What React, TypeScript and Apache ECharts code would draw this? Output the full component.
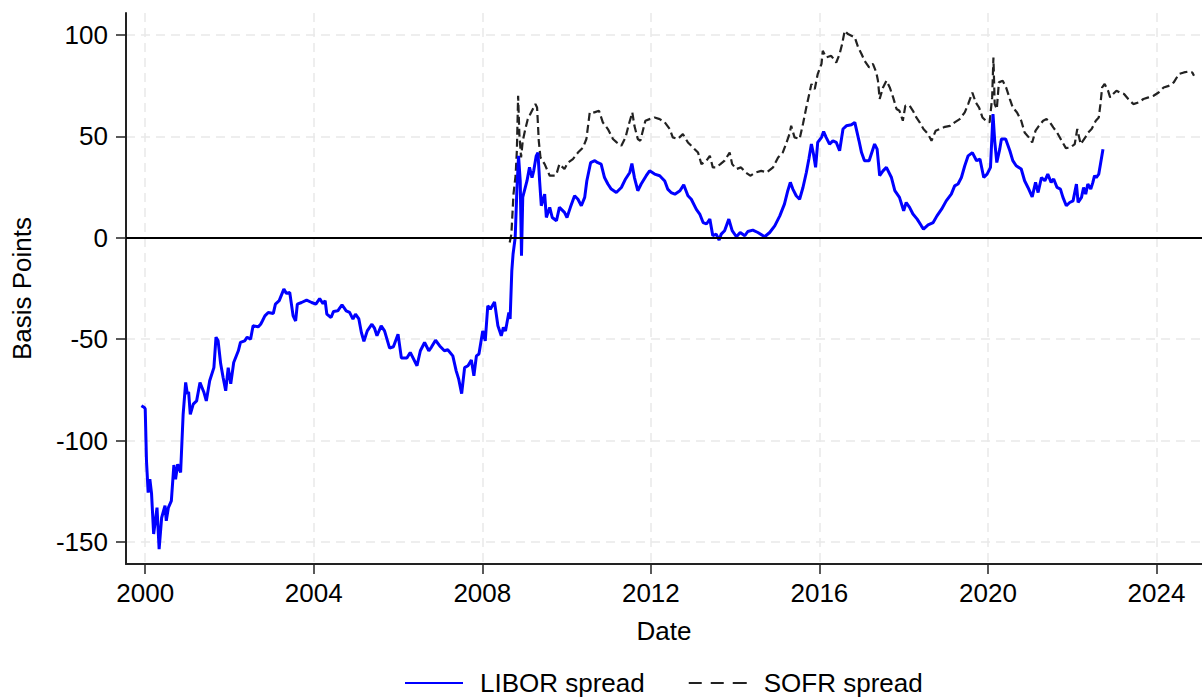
import React, { useEffect, useRef } from "react";
import * as echarts from "echarts";

const liborDates = [
  1999.91, 1999.98, 2000.0, 2000.03, 2000.07, 2000.11, 2000.15, 2000.2, 2000.28, 2000.33, 2000.39, 2000.47, 2000.5,
  2000.55, 2000.62, 2000.68, 2000.72, 2000.77, 2000.84, 2000.9, 2000.96, 2001.0, 2001.03, 2001.07, 2001.14, 2001.22,
  2001.3, 2001.39, 2001.45, 2001.53, 2001.63, 2001.68, 2001.73, 2001.79, 2001.85, 2001.91, 2001.97, 2002.03, 2002.1,
  2002.21, 2002.26, 2002.36, 2002.42, 2002.5, 2002.56, 2002.68, 2002.74, 2002.78, 2002.84, 2002.92, 2003.04, 2003.09,
  2003.18, 2003.29, 2003.35, 2003.43, 2003.51, 2003.57, 2003.61, 2003.71, 2003.83, 2003.95, 2004.05, 2004.14, 2004.22,
  2004.27, 2004.31, 2004.41, 2004.47, 2004.57, 2004.67, 2004.77, 2004.85, 2004.93, 2004.99, 2005.07, 2005.13, 2005.19,
  2005.27, 2005.38, 2005.44, 2005.5, 2005.6, 2005.68, 2005.8, 2005.89, 2006.0, 2006.08, 2006.21, 2006.29, 2006.45,
  2006.53, 2006.63, 2006.73, 2006.79, 2006.89, 2006.99, 2007.1, 2007.18, 2007.3, 2007.38, 2007.44, 2007.51, 2007.58,
  2007.66, 2007.74, 2007.8, 2007.86, 2007.92, 2008.01, 2008.07, 2008.13, 2008.19, 2008.29, 2008.37, 2008.45, 2008.5,
  2008.55, 2008.63, 2008.66, 2008.7, 2008.73, 2008.78, 2008.82, 2008.86, 2008.9, 2008.93, 2008.96, 2009.0, 2009.06,
  2009.12, 2009.18, 2009.22, 2009.28, 2009.32, 2009.36, 2009.4, 2009.48, 2009.52, 2009.6, 2009.66, 2009.76, 2009.83,
  2009.95, 2010.01, 2010.09, 2010.19, 2010.27, 2010.35, 2010.43, 2010.48, 2010.57, 2010.67, 2010.74, 2010.82, 2010.9,
  2010.98, 2011.06, 2011.18, 2011.3, 2011.4, 2011.5, 2011.55, 2011.61, 2011.69, 2011.77, 2011.89, 2011.97, 2012.09,
  2012.21, 2012.33, 2012.4, 2012.48, 2012.57, 2012.69, 2012.78, 2012.88, 2012.96, 2013.08, 2013.16, 2013.24, 2013.32,
  2013.4, 2013.47, 2013.55, 2013.62, 2013.67, 2013.75, 2013.85, 2013.93, 2014.03, 2014.12, 2014.23, 2014.3, 2014.42,
  2014.54, 2014.7, 2014.82, 2014.94, 2015.06, 2015.17, 2015.25, 2015.31, 2015.37, 2015.45, 2015.53, 2015.61, 2015.69,
  2015.75, 2015.81, 2015.86, 2015.91, 2015.96, 2016.05, 2016.1, 2016.16, 2016.24, 2016.32, 2016.4, 2016.48, 2016.56,
  2016.64, 2016.76, 2016.84, 2016.94, 2017.0, 2017.07, 2017.18, 2017.31, 2017.37, 2017.43, 2017.51, 2017.59, 2017.71,
  2017.79, 2017.9, 2018.0, 2018.06, 2018.14, 2018.22, 2018.32, 2018.42, 2018.47, 2018.58, 2018.7, 2018.79, 2018.9,
  2019.01, 2019.13, 2019.21, 2019.29, 2019.37, 2019.45, 2019.53, 2019.63, 2019.73, 2019.81, 2019.9, 2019.98, 2020.06,
  2020.12, 2020.16, 2020.21, 2020.28, 2020.32, 2020.42, 2020.52, 2020.59, 2020.67, 2020.79, 2020.87, 2020.95, 2021.05,
  2021.13, 2021.19, 2021.27, 2021.35, 2021.42, 2021.5, 2021.56, 2021.64, 2021.72, 2021.78, 2021.86, 2021.94, 2022.02,
  2022.1, 2022.14, 2022.22, 2022.27, 2022.32, 2022.37, 2022.44, 2022.49, 2022.53, 2022.57, 2022.63, 2022.67, 2022.73,
];

const liborValues = [
  -82.8, -83.7, -84.3, -110, -125.6, -119, -126, -146, -133, -153.5, -138, -132, -139.5,
  -133, -129.7, -112, -119, -111.6, -115.7, -87, -71.3, -77, -76, -87, -82, -80.4,
  -71.3, -76, -80.4, -70.5, -64, -49, -50.8, -62, -69, -75.4, -64, -72, -61.5,
  -55.7, -51.6, -50.8, -49, -50, -43.4, -43.9, -42.6, -41, -38.5, -36.8, -37.3, -32.7,
  -31, -25.3, -27.4, -27, -38.5, -41, -32.7, -31.9, -30.7, -31.9, -32.7, -30, -32.5,
  -31, -37.6, -39.3, -36.3, -36, -33, -36, -36.8, -40.1, -37.6, -40, -46.7, -51,
  -45.9, -42.6, -44.5, -48.3, -43.4, -45.9, -54.4, -53.7, -47.5, -59.3, -59.3, -56.5, -63.1,
  -55.7, -51.6, -55.7, -54, -50.5, -53.3, -55.7, -55.2, -58.2, -65.6, -69.7, -76.8, -64,
  -63.1, -60.3, -68, -58.2, -57.3, -45.9, -50.8, -33.5, -35.2, -31.6, -43.4, -48.3, -44.2,
  -45.9, -36.8, -40, -16.3, -8, 0, 23, 40.4, 28, -8.9, 20, 23.2, 28,
  34.7, 29.7, 33, 40.4, 42, 28, 15.8, 21.5, 10, 15, 10, 8.4, 15,
  12.5, 10, 15, 20.7, 19, 15.8, 19.9, 28, 37, 38, 37, 36.3, 29.7,
  26.5, 24, 22.3, 24.8, 29, 32.2, 36.6, 29.7, 23.2, 26.5, 30.6, 33, 31.4,
  30.6, 28, 24, 22.3, 21.5, 23.2, 26.1, 20.7, 19, 14, 11.7, 7.5, 6.8,
  9.2, 1, 1.8, -1.1, 1.8, 3.5, 9.2, 3.5, 0.5, 2.6, 1, 3.1, 3.8,
  2.6, 0.5, 2.6, 5.9, 10.8, 16.6, 23.2, 27.3, 24, 20.7, 19, 24.8, 32.2,
  38.8, 46.2, 41.3, 34.7, 47, 49.5, 52.4, 49.5, 46.2, 47.8, 47, 42.9, 53.6,
  55.2, 55.7, 56.9, 47.8, 42, 38, 38, 46.2, 43.7, 30.6, 33, 34.7, 29.7,
  23.2, 19.9, 13.3, 17.4, 15, 11.7, 9.2, 5.9, 4.3, 6.4, 7.5, 10.8, 14.1,
  18.2, 21.5, 25.6, 26.5, 29.7, 35.5, 40.4, 42, 38, 38.8, 29.7, 31.4, 34.7,
  61, 47.8, 37.1, 43.7, 48.7, 48.7, 42.9, 38, 35.5, 33.9, 28.1, 24.8, 20.2,
  27.3, 22.3, 29.7, 28.1, 31.4, 27.3, 29, 24.8, 24, 19.9, 15.8, 17.4, 18.2,
  26.5, 17.4, 19.9, 24.8, 21.5, 26.5, 24, 27.3, 30.6, 29.7, 31.4, 36.3, 43.7,
];

const sofrDates = [
  2008.65, 2008.69, 2008.74, 2008.79, 2008.82, 2008.85, 2008.88, 2008.92, 2008.96, 2009.03, 2009.08, 2009.14, 2009.2,
  2009.26, 2009.3, 2009.34, 2009.38, 2009.48, 2009.6, 2009.72, 2009.76, 2009.83, 2009.95, 2010.03, 2010.15, 2010.27,
  2010.39, 2010.47, 2010.55, 2010.66, 2010.77, 2010.86, 2010.98, 2011.1, 2011.19, 2011.3, 2011.4, 2011.48, 2011.56,
  2011.61, 2011.69, 2011.75, 2011.81, 2011.87, 2011.97, 2012.09, 2012.21, 2012.33, 2012.45, 2012.52, 2012.64, 2012.76,
  2012.88, 2013.0, 2013.12, 2013.2, 2013.32, 2013.4, 2013.47, 2013.55, 2013.65, 2013.75, 2013.87, 2013.93, 2014.03,
  2014.14, 2014.25, 2014.36, 2014.49, 2014.62, 2014.75, 2014.9, 2015.02, 2015.13, 2015.22, 2015.29, 2015.33, 2015.41,
  2015.53, 2015.61, 2015.69, 2015.75, 2015.81, 2015.89, 2015.96, 2016.05, 2016.08, 2016.16, 2016.28, 2016.4, 2016.48,
  2016.54, 2016.6, 2016.68, 2016.76, 2016.84, 2016.92, 2017.0, 2017.07, 2017.18, 2017.27, 2017.35, 2017.39, 2017.43,
  2017.51, 2017.59, 2017.67, 2017.75, 2017.83, 2017.9, 2017.98, 2018.04, 2018.14, 2018.22, 2018.3, 2018.38, 2018.47,
  2018.58, 2018.66, 2018.76, 2018.86, 2018.98, 2019.1, 2019.21, 2019.33, 2019.45, 2019.53, 2019.63, 2019.71, 2019.79,
  2019.87, 2019.95, 2020.04, 2020.1, 2020.13, 2020.16, 2020.21, 2020.26, 2020.35, 2020.43, 2020.52, 2020.59, 2020.69,
  2020.79, 2020.87, 2020.97, 2021.05, 2021.13, 2021.21, 2021.31, 2021.39, 2021.47, 2021.55, 2021.64, 2021.75, 2021.85,
  2021.96, 2022.06, 2022.12, 2022.2, 2022.31, 2022.38, 2022.46, 2022.56, 2022.63, 2022.67, 2022.71, 2022.77, 2022.85,
  2022.9, 2022.97, 2023.05, 2023.13, 2023.23, 2023.33, 2023.45, 2023.57, 2023.69, 2023.81, 2023.93, 2024.05, 2024.17,
  2024.29, 2024.41, 2024.53, 2024.65, 2024.77, 2024.85, 2024.89,
];

const sofrValues = [
  -2.3, 1.8, 21.5, 30.6, 42.9, 70, 51, 39.6, 47.8, 54.4, 58.5, 61, 63.5,
  65.9, 64.2, 47.8, 39.6, 36.3, 30.6, 30.6, 31.4, 36.3, 33.9, 37, 38.8, 42,
  44.5, 48.7, 61.8, 61.8, 62.6, 56.9, 53.6, 48.7, 47, 45.4, 49.5, 56.1, 61.8,
  55.2, 48.7, 47.8, 52.8, 57.7, 58.5, 59.3, 58.5, 56.9, 53.6, 49.5, 48.7, 51.1,
  47, 44.5, 42, 36.3, 38, 40.4, 34.7, 34.7, 36.3, 38, 42, 36.3, 33.9,
  34.7, 32.2, 30.6, 32.2, 33, 32.2, 34.7, 39.6, 42, 47, 51.1, 55.2, 49.5,
  48.7, 56.1, 64.3, 70, 75.8, 73.3, 80.7, 85.7, 92.2, 88.9, 89.7, 86.4, 90.6,
  95.5, 102, 100.4, 99.6, 98.8, 93.8, 90.6, 87.3, 84, 85.7, 81.5, 77.4, 68.4,
  74.1, 77.4, 74.1, 69.2, 63.5, 62.6, 57.7, 65.1, 65.1, 62.6, 59.3, 56.9, 53.6,
  51.1, 47.8, 52.8, 53.6, 54.7, 55.2, 56.9, 58.5, 61.8, 65.9, 71.6, 66.7, 64.2,
  59.3, 57.7, 56.9, 69.2, 88.9, 65.9, 63.5, 76.6, 77.4, 74.1, 68.4, 64.2, 61.8,
  57.7, 51.9, 49.5, 47, 52.8, 55.2, 57.7, 58.5, 56.9, 54.4, 51.9, 47.8, 44.2,
  44.5, 46.2, 53.6, 46.2, 49.5, 51.9, 53.6, 57.7, 59.3, 65.9, 74.1, 75.8, 72.5,
  69.2, 70.9, 72.5, 71.6, 70.9, 68.4, 65.9, 66.7, 68.4, 69.2, 70, 71.6, 74.1,
  74.9, 76.6, 80.7, 81.5, 82, 81.5, 79.9,
];

const xTicks = [2000, 2004, 2008, 2012, 2016, 2020, 2024];
const yTicks = [-150, -100, -50, 0, 50, 100];

const FONT = "Liberation Sans, Arial, sans-serif";
const FS = 26;

export default function App() {
  const ref = useRef<HTMLDivElement>(null);

  useEffect(() => {
    document.body.style.margin = "0";
    if (!ref.current) return;
    const chart = echarts.init(ref.current, null, { renderer: "svg" });
    const libor = liborDates.map((d, i) => [d, liborValues[i]]);
    const sofr = sofrDates.map((d, i) => [d, sofrValues[i]]);

    const gridLine = { show: true, lineStyle: { color: "#e9e9e9", width: 1.5, type: [9, 6] as any } };
    const axisLine = { show: true, onZero: false, lineStyle: { color: "#222", width: 2 } };

    chart.setOption({
      animation: false,
      backgroundColor: "#fff",
      textStyle: { fontFamily: FONT },
      grid: { left: 126, right: 0, top: 13, bottom: 134, containLabel: false, outerBoundsMode: "none" },
      xAxis: {
        type: "value",
        min: 1999.544,
        max: 2025.08,
        name: "Date",
        nameLocation: "middle",
        nameGap: 54,
        nameTextStyle: { fontSize: FS, color: "#000", fontFamily: FONT },
        axisLine,
        axisTick: { show: true, length: 10, lineStyle: { color: "#222", width: 1.5 }, customValues: xTicks },
        axisLabel: {
          customValues: xTicks,
          fontSize: FS,
          color: "#000",
          margin: 16,
          fontFamily: FONT,
          formatter: (v: number) => String(Math.round(v)),
        },
        splitLine: gridLine,
      },
      yAxis: {
        type: "value",
        min: -160.8,
        max: 110.8,
        name: "Basis Points",
        nameLocation: "middle",
        nameGap: 91,
        nameRotate: 90,
        nameTextStyle: { fontSize: FS, color: "#000", fontFamily: FONT },
        axisLine,
        axisTick: { show: true, length: 10, lineStyle: { color: "#222", width: 1.5 }, customValues: yTicks },
        axisLabel: {
          customValues: yTicks,
          fontSize: FS,
          color: "#000",
          margin: 18,
          fontFamily: FONT,
          formatter: (v: number) => String(Math.round(v)),
        },
        splitLine: gridLine,
      },
      legend: {
        top: 670,
        left: 405,
        padding: 0,
        itemWidth: 58,
        itemHeight: 14,
        itemGap: 44,
        textStyle: { fontSize: FS, color: "#000", fontFamily: FONT, padding: [0, 0, 0, 12] },
        data: [
          { name: "LIBOR spread", icon: "path://M0,6 L58,6 L58,8 L0,8 Z", itemStyle: { color: "#0000ff" } },
          {
            name: "SOFR spread",
            icon: "path://M0,6 L13,6 L13,8 L0,8 Z M22,6 L35,6 L35,8 L22,8 Z M44,6 L58,6 L58,8 L44,8 Z",
            itemStyle: { color: "#222" },
          },
        ],
      },
      series: [
        {
          name: "LIBOR spread",
          type: "line",
          data: libor,
          showSymbol: false,
          symbol: "none",
          lineStyle: { color: "#0000ff", width: 3 },
          itemStyle: { color: "#0000ff" },
          z: 3,
          markLine: {
            silent: true,
            symbol: "none",
            label: { show: false },
            lineStyle: { color: "#000", width: 2, type: "solid" },
            data: [{ yAxis: 0 }],
            z: 5,
          },
        },
        {
          name: "SOFR spread",
          type: "line",
          data: sofr,
          showSymbol: false,
          symbol: "none",
          lineStyle: { color: "#222", width: 2.2, type: [8, 4] },
          itemStyle: { color: "#222" },
          z: 2,
        },
      ],
    });
    return () => chart.dispose();
  }, []);

  return <div ref={ref} style={{ width: 1202, height: 698 }} />;
}
